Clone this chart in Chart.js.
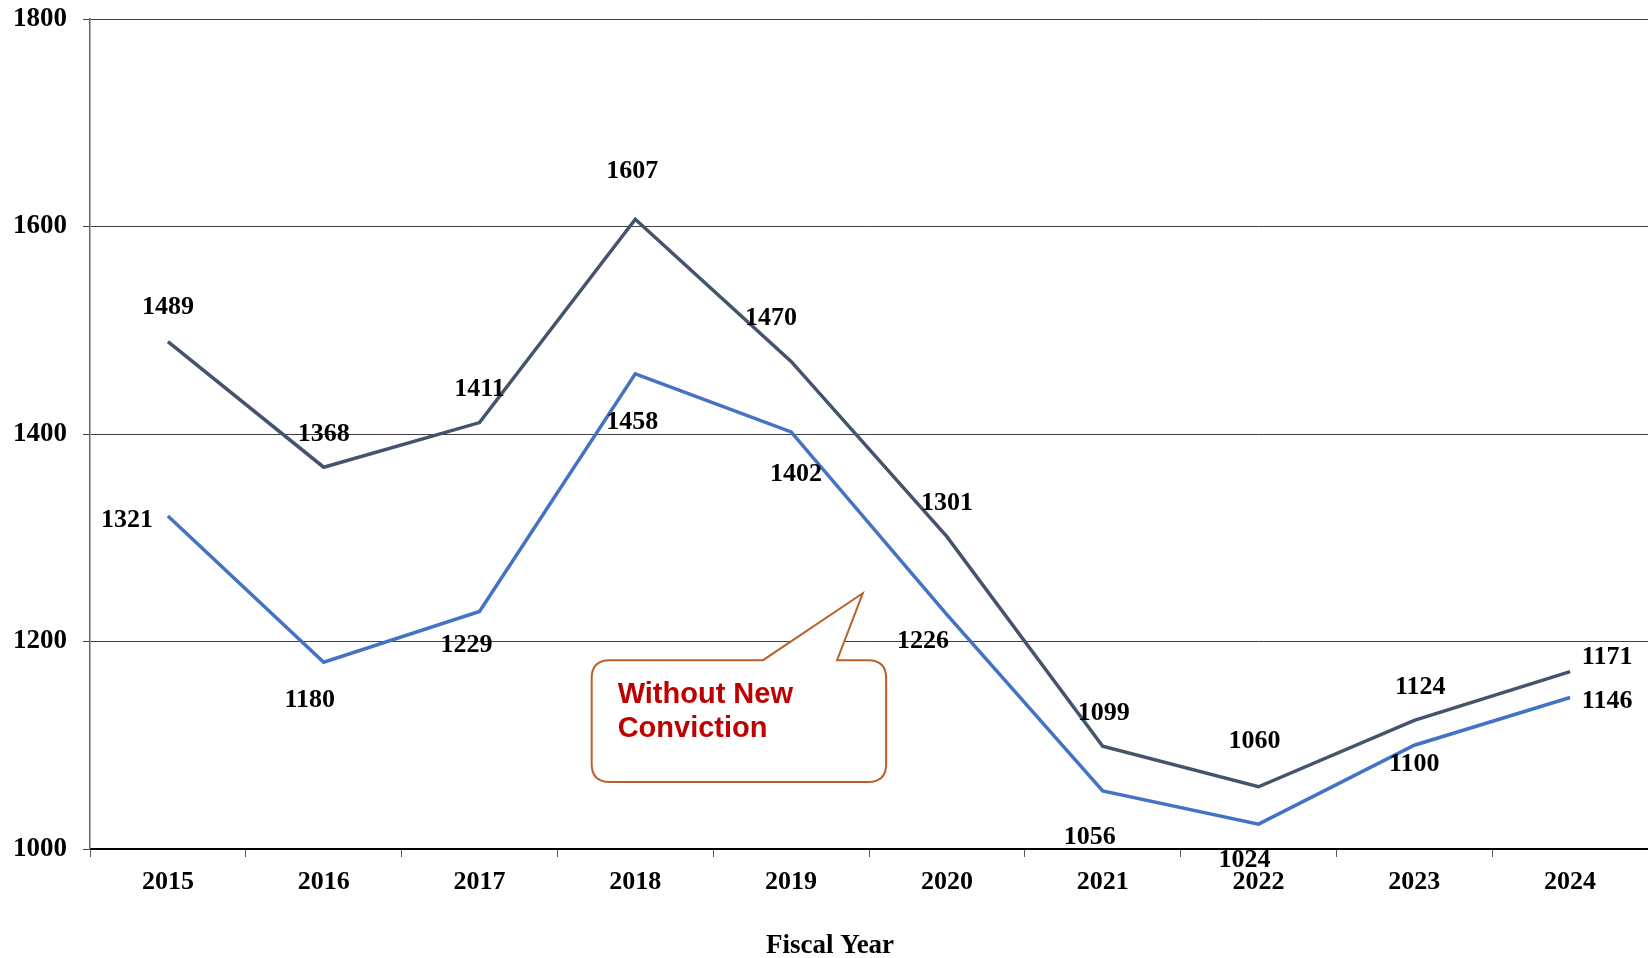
<!DOCTYPE html>
<html>
<head>
<meta charset="utf-8">
<script src="https://cdn.jsdelivr.net/npm/chart.js@4/dist/chart.umd.min.js"></script>
<style>
  html, body { margin: 0; padding: 0; background: #fff; }
  #wrap { width: 1648px; height: 958px; position: relative; }
</style>
</head>
<body>
<div id="wrap"><canvas id="grafico"></canvas></div>
<script>
// Datos
var years = ['2015', '2016', '2017', '2018', '2019', '2020', '2021', '2022', '2023', '2024'];
var totalValues = [1489, 1368, 1411, 1607, 1470, 1301, 1099, 1060, 1124, 1171];
var withoutNewConviction = [1321, 1180, 1229, 1458, 1402, 1226, 1056, 1024, 1100, 1146];
var yTicks = [1000, 1200, 1400, 1600, 1800];
var xTitle = 'Fiscal Year';

// Desplazamiento de las etiquetas (pixeles, relativo al punto)
var totalLabelOffsets = [[0, -34], [0, -33], [0, -33], [-3, -48], [-20, -43], [0, -33], [1, -33], [-4, -45], [6, -33], [37, -14]];
var blueLabelOffsets = [[-41, 4], [-14, 38], [-13, 34], [-3, 48], [5, 42], [-24, 27], [-13, 46], [-14, 36], [0, 19], [37, 4]];

var serifFamily = '"Liberation Serif", "Times New Roman", serif';

// Plugin para etiquetas de datos, titulo del eje y el globo de texto
var etiquetasPlugin = {
    id: 'etiquetas',
    afterDatasetsDraw: function (chart) {
        var ctx = chart.ctx;
        var offsets = [totalLabelOffsets, blueLabelOffsets];
        ctx.save();
        ctx.font = 'bold 26px ' + serifFamily;
        ctx.fillStyle = '#000';
        ctx.textAlign = 'center';
        ctx.textBaseline = 'middle';
        chart.data.datasets.forEach(function (ds, i) {
            var meta = chart.getDatasetMeta(i);
            meta.data.forEach(function (pt, j) {
                var off = offsets[i][j];
                ctx.fillText(String(ds.data[j]), pt.x + off[0], pt.y + off[1]);
            });
        });

        // Titulo del eje X (centrado en el lienzo, como en la imagen)
        ctx.font = 'bold 27px ' + serifFamily;
        ctx.fillText(xTitle, chart.width / 2 + 6, chart.height - 12);

        // Globo "Without New Conviction"
        var xs = chart.scales.x, ys = chart.scales.y;
        var step = xs.getPixelForValue(1) - xs.getPixelForValue(0);
        var px = function (v) { return xs.getPixelForValue(0) + v * step; };
        var left = px(2.72), right = px(4.61);
        var top = ys.getPixelForValue(1182), bottom = ys.getPixelForValue(1064.5);
        var tipX = px(4.46), tipY = ys.getPixelForValue(1246.5);
        var baseA = px(3.82), baseB = px(4.295);
        var r = 18;
        ctx.beginPath();
        ctx.moveTo(left + r, top);
        ctx.lineTo(baseA, top);
        ctx.lineTo(tipX, tipY);
        ctx.lineTo(baseB, top);
        ctx.lineTo(right - r, top);
        ctx.quadraticCurveTo(right, top, right, top + r);
        ctx.lineTo(right, bottom - r);
        ctx.quadraticCurveTo(right, bottom, right - r, bottom);
        ctx.lineTo(left + r, bottom);
        ctx.quadraticCurveTo(left, bottom, left, bottom - r);
        ctx.lineTo(left, top + r);
        ctx.quadraticCurveTo(left, top, left + r, top);
        ctx.closePath();
        ctx.fillStyle = '#fff';
        ctx.fill();
        ctx.strokeStyle = '#B8612A';
        ctx.lineWidth = 2;
        ctx.stroke();

        ctx.fillStyle = '#C00000';
        ctx.font = 'bold 29px "Liberation Sans", Arial, sans-serif';
        ctx.textAlign = 'left';
        ctx.textBaseline = 'alphabetic';
        ctx.fillText('Without New', left + 26, top + 43);
        ctx.fillText('Conviction', left + 26, top + 77);
        ctx.restore();
    }
};

var datos = {
    labels: years,
    datasets: [
        {
            label: 'Total',
            data: totalValues,
            borderColor: '#44546A',
            backgroundColor: '#44546A',
            borderWidth: 3.5,
            pointRadius: 0,
            tension: 0
        },
        {
            label: 'Without New Conviction',
            data: withoutNewConviction,
            borderColor: '#4472C4',
            backgroundColor: '#4472C4',
            borderWidth: 3.5,
            pointRadius: 0,
            tension: 0
        }
    ]
};

var opciones = {
    responsive: true,
    maintainAspectRatio: false,
    animation: false,
    layout: { padding: { top: 19, right: 0, left: 0, bottom: 0 } },
    plugins: {
        legend: { display: false },
        tooltip: { enabled: false }
    },
    scales: {
        x: {
            offset: true,
            grid: { offset: true, drawOnChartArea: false, tickLength: 8, color: '#595959' },
            border: { color: '#000', width: 2 },
            ticks: {
                color: '#000',
                padding: 10,
                maxRotation: 0,
                font: { family: serifFamily, size: 26, weight: 'bold' }
            },
            afterFit: function (s) { s.height = 109; s.paddingLeft = 0; s.paddingRight = 0; }
        },
        y: {
            min: yTicks[0],
            max: yTicks[yTicks.length - 1],
            afterBuildTicks: function (s) { s.ticks = yTicks.map(function (v) { return { value: v }; }); },
            grid: { color: '#404040', tickLength: 7, lineWidth: 1 },
            border: { color: '#666666', width: 1.5 },
            ticks: {
                color: '#000',
                padding: 16,
                callback: function (v) { return String(v); },
                font: { family: serifFamily, size: 27, weight: 'bold' }
            },
            afterFit: function (s) { s.width = 90; s.paddingTop = 0; s.paddingBottom = 0; }
        }
    }
};

var contexto = document.getElementById('grafico').getContext('2d');
var grafico = new Chart(contexto, {
    type: 'line',
    data: datos,
    options: opciones,
    plugins: [etiquetasPlugin]
});
</script>
</body>
</html>
